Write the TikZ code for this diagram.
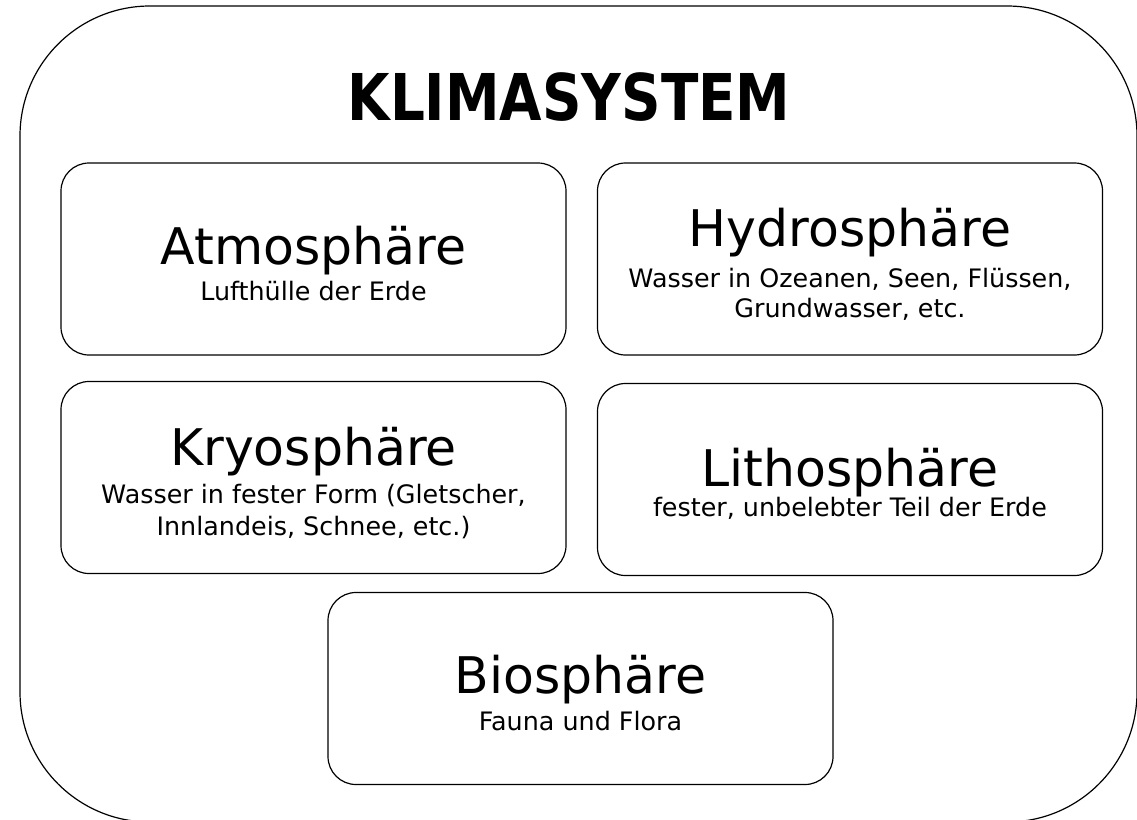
\documentclass[tikz,border=0pt]{standalone}
\usepackage{fontspec}
\setmainfont{DejaVu Sans}
\newfontfamily\klimafont{DejaVu Sans}[FakeStretch=0.85]

\tikzset{
  sphere/.style={draw,line width=1.2pt,rounded corners=28pt,minimum width=505pt,minimum height=192pt,inner sep=0pt},
  head/.style={anchor=base,inner sep=0pt,font=\fontsize{50.5}{60}\selectfont},
  sub/.style={anchor=base,inner sep=0pt,font=\fontsize{25.4}{30}\selectfont}
}

\begin{document}
\begin{tikzpicture}[x=1pt,y=-1pt]
  \useasboundingbox (0,0) rectangle (1137,819);
  % outer frame
  \draw[line width=1.2pt,rounded corners=130pt] (20,6) rectangle (1137,822);
  \node[anchor=base,inner sep=0pt,font=\klimafont\bfseries\fontsize{64.5}{70}\selectfont] (klima) at (569,120) {KLIMASYSTEM};

  % the five spheres
  \foreach \name/\x/\y/\hy/\head in {atmo/313.5/259/264/Atmosphäre,
                                     hydro/850/259/246/Hydrosphäre,
                                     kryo/313.5/477.5/465/Kryosphäre,
                                     litho/850/479.5/486/Lithosphäre,
                                     bio/580.5/688.5/693/Biosphäre}
  {
    \node[sphere] (\name) at (\x,\y) {};
    \node[head] (\name Head) at (\x,\hy) {\head};
  }

  \foreach \x/\y/\txt [count=\i] in {313.5/300/{Lufthülle der Erde},
                                     850/287/{Wasser in Ozeanen, Seen, Flüssen,},
                                     850/317/{Grundwasser, etc.},
                                     313.5/503/{Wasser in fester Form (Gletscher,},
                                     313.5/535/{Innlandeis, Schnee, etc.)},
                                     850/516/{fester, unbelebter Teil der Erde},
                                     580.5/730/{Fauna und Flora}}
  {
    \node[sub] (sub\i) at (\x,\y) {\txt};
  }
\end{tikzpicture}
\end{document}
